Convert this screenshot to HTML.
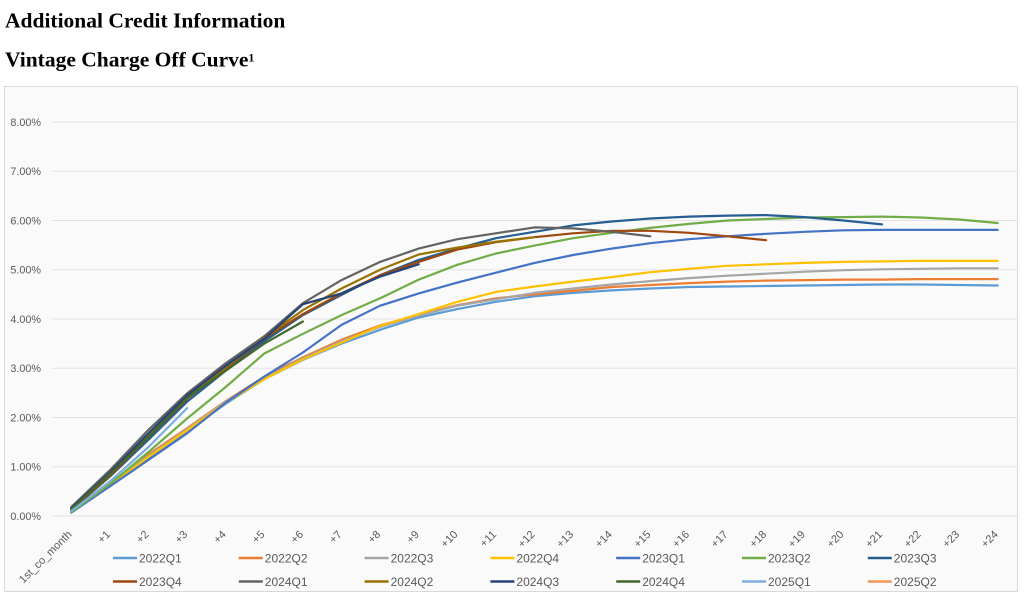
<!DOCTYPE html>
<html>
<head>
<meta charset="utf-8">
<style>
  html, body { margin:0; padding:0; background:#ffffff; }
  body { width:1029px; height:609px; overflow:hidden; position:relative; }
  svg { position:absolute; left:0; top:0; }
</style>
</head>
<body>
<svg width="1029" height="609" viewBox="0 0 1029 609" xmlns="http://www.w3.org/2000/svg">
  <!-- Titles -->
  <text x="5" y="27.5" font-family="Liberation Serif, serif" font-weight="bold" font-size="21.5" fill="#000">Additional Credit Information</text>
  <text x="5" y="66.5" font-family="Liberation Serif, serif" font-weight="bold" font-size="21.5" fill="#000">Vintage Charge Off Curve<tspan font-size="12" dy="-5">1</tspan></text>

  <!-- Chart box -->
  <rect x="4.5" y="86.5" width="1013" height="505" fill="#fafafa" stroke="#d9d9d9" stroke-width="1"/>

  <!-- Gridlines -->
  <g stroke="#e3e3e3" stroke-width="1">
    <line x1="52" x2="1017" y1="122" y2="122"/>
    <line x1="52" x2="1017" y1="171.25" y2="171.25"/>
    <line x1="52" x2="1017" y1="220.5" y2="220.5"/>
    <line x1="52" x2="1017" y1="269.75" y2="269.75"/>
    <line x1="52" x2="1017" y1="319" y2="319"/>
    <line x1="52" x2="1017" y1="368.25" y2="368.25"/>
    <line x1="52" x2="1017" y1="417.5" y2="417.5"/>
    <line x1="52" x2="1017" y1="466.75" y2="466.75"/>
    <line x1="52" x2="1017" y1="516" y2="516"/>
  </g>

  <!-- Y labels -->
  <g font-family="Liberation Sans, sans-serif" font-size="10.8" fill="#595959" text-anchor="end">
    <text x="41" y="125.8">8.00%</text>
    <text x="41" y="175.05">7.00%</text>
    <text x="41" y="224.3">6.00%</text>
    <text x="41" y="273.55">5.00%</text>
    <text x="41" y="322.8">4.00%</text>
    <text x="41" y="372.05">3.00%</text>
    <text x="41" y="421.3">2.00%</text>
    <text x="41" y="470.55">1.00%</text>
    <text x="41" y="519.8">0.00%</text>
  </g>

  <!-- X labels -->
  <g font-family="Liberation Sans, sans-serif" font-size="11" fill="#595959" text-anchor="end">
    <text transform="translate(72.3,535) rotate(-45)">1st_co_month</text>
    <text transform="translate(110.9,535) rotate(-45)">+1</text>
    <text transform="translate(149.5,535) rotate(-45)">+2</text>
    <text transform="translate(188.1,535) rotate(-45)">+3</text>
    <text transform="translate(226.7,535) rotate(-45)">+4</text>
    <text transform="translate(265.3,535) rotate(-45)">+5</text>
    <text transform="translate(303.9,535) rotate(-45)">+6</text>
    <text transform="translate(342.5,535) rotate(-45)">+7</text>
    <text transform="translate(381.1,535) rotate(-45)">+8</text>
    <text transform="translate(419.7,535) rotate(-45)">+9</text>
    <text transform="translate(458.3,535) rotate(-45)">+10</text>
    <text transform="translate(496.9,535) rotate(-45)">+11</text>
    <text transform="translate(535.5,535) rotate(-45)">+12</text>
    <text transform="translate(574.1,535) rotate(-45)">+13</text>
    <text transform="translate(612.7,535) rotate(-45)">+14</text>
    <text transform="translate(651.3,535) rotate(-45)">+15</text>
    <text transform="translate(689.9,535) rotate(-45)">+16</text>
    <text transform="translate(728.5,535) rotate(-45)">+17</text>
    <text transform="translate(767.1,535) rotate(-45)">+18</text>
    <text transform="translate(805.7,535) rotate(-45)">+19</text>
    <text transform="translate(844.3,535) rotate(-45)">+20</text>
    <text transform="translate(882.9,535) rotate(-45)">+21</text>
    <text transform="translate(921.5,535) rotate(-45)">+22</text>
    <text transform="translate(960.1,535) rotate(-45)">+23</text>
    <text transform="translate(998.7,535) rotate(-45)">+24</text>
  </g>

  <!-- Series -->
  <g fill="none" stroke-width="2.2" stroke-linejoin="round" stroke-linecap="round">
    <!-- 2022Q1 -->
    <polyline stroke="#5B9BD5" points="71.3,512.1 109.9,485.5 148.5,457.9 187.1,431.3 225.7,403.7 264.3,379.1 302.9,359.9 341.5,343.6 380.1,329.8 418.7,317.5 457.3,309.1 495.9,301.8 534.5,296.3 573.1,292.9 611.7,290.4 650.3,288.5 688.9,287.0 727.5,286.5 766.1,286.0 804.7,285.5 843.3,285.0 881.9,284.5 920.5,284.5 959.1,285.0 997.7,285.5"/>
    <!-- 2022Q2 -->
    <polyline stroke="#ED7D31" points="71.3,511.6 109.9,484.0 148.5,454.4 187.1,428.3 225.7,401.2 264.3,376.6 302.9,357.4 341.5,339.7 380.1,325.4 418.7,315.1 457.3,305.2 495.9,298.3 534.5,294.4 573.1,290.9 611.7,287.0 650.3,285.0 688.9,283.1 727.5,281.6 766.1,280.6 804.7,280.1 843.3,279.6 881.9,279.6 920.5,279.1 959.1,279.1 997.7,279.1"/>
    <!-- 2022Q3 -->
    <polyline stroke="#A5A5A5" points="71.3,511.6 109.9,484.5 148.5,455.9 187.1,429.3 225.7,401.7 264.3,378.1 302.9,358.4 341.5,341.2 380.1,326.9 418.7,315.6 457.3,305.7 495.9,299.3 534.5,292.9 573.1,288.5 611.7,284.5 650.3,281.1 688.9,278.1 727.5,275.7 766.1,273.7 804.7,271.7 843.3,270.2 881.9,269.3 920.5,268.8 959.1,268.3 997.7,268.3"/>
    <!-- 2022Q4 -->
    <polyline stroke="#FFC000" points="71.3,512.1 109.9,485.5 148.5,456.9 187.1,430.3 225.7,402.7 264.3,379.1 302.9,359.4 341.5,342.6 380.1,325.9 418.7,314.1 457.3,301.8 495.9,291.9 534.5,286.5 573.1,281.6 611.7,277.1 650.3,272.2 688.9,268.8 727.5,265.8 766.1,264.3 804.7,262.9 843.3,261.9 881.9,261.4 920.5,260.9 959.1,260.9 997.7,260.9"/>
    <!-- 2023Q1 -->
    <polyline stroke="#4472C4" points="71.3,512.6 109.9,486.4 148.5,459.9 187.1,433.3 225.7,402.7 264.3,376.6 302.9,352.5 341.5,324.9 380.1,305.7 418.7,293.4 457.3,282.6 495.9,272.7 534.5,262.9 573.1,255.0 611.7,248.6 650.3,243.2 688.9,239.2 727.5,236.3 766.1,233.8 804.7,231.8 843.3,230.3 881.9,229.9 920.5,229.9 959.1,229.9 997.7,229.9"/>
    <!-- 2023Q2 -->
    <polyline stroke="#70AD47" points="71.3,512.1 109.9,484.0 148.5,452.0 187.1,418.5 225.7,387.0 264.3,353.5 302.9,333.8 341.5,315.1 380.1,298.3 418.7,279.6 457.3,264.8 495.9,253.5 534.5,245.6 573.1,238.2 611.7,232.8 650.3,227.9 688.9,223.9 727.5,220.5 766.1,219.0 804.7,217.5 843.3,217.1 881.9,216.6 920.5,217.5 959.1,219.5 997.7,223.0"/>
    <!-- 2023Q3 -->
    <polyline stroke="#255E91" points="71.3,510.1 109.9,476.6 148.5,439.7 187.1,401.7 225.7,370.7 264.3,341.2 302.9,315.1 341.5,294.9 380.1,275.2 418.7,259.9 457.3,248.6 495.9,238.2 534.5,231.8 573.1,225.4 611.7,221.5 650.3,218.5 688.9,216.6 727.5,215.6 766.1,215.1 804.7,217.1 843.3,220.5 881.9,224.4"/>
    <!-- 2023Q4 -->
    <polyline stroke="#9E480E" points="71.3,509.6 109.9,475.6 148.5,437.2 187.1,398.8 225.7,368.2 264.3,338.7 302.9,314.1 341.5,293.4 380.1,275.2 418.7,261.9 457.3,249.6 495.9,242.2 534.5,237.2 573.1,233.3 611.7,230.8 650.3,230.8 688.9,232.8 727.5,236.3 766.1,240.2"/>
    <!-- 2024Q1 -->
    <polyline stroke="#636363" points="71.3,507.1 109.9,470.2 148.5,429.8 187.1,393.4 225.7,363.3 264.3,336.2 302.9,303.2 341.5,280.1 380.1,261.9 418.7,248.6 457.3,239.2 495.9,233.3 534.5,227.4 573.1,228.4 611.7,231.8 650.3,236.3"/>
    <!-- 2024Q2 -->
    <polyline stroke="#997300" points="71.3,508.6 109.9,474.1 148.5,434.7 187.1,396.8 225.7,367.3 264.3,337.7 302.9,310.1 341.5,288.5 380.1,269.7 418.7,254.5 457.3,247.6 495.9,241.7 534.5,237.2"/>
    <!-- 2024Q3 -->
    <polyline stroke="#264478" points="71.3,508.1 109.9,472.7 148.5,433.3 187.1,395.3 225.7,365.8 264.3,338.7 302.9,304.2 341.5,293.4 380.1,276.6 418.7,264.3"/>
    <!-- 2024Q4 -->
    <polyline stroke="#43682B" points="71.3,509.1 109.9,474.1 148.5,437.2 187.1,397.8 225.7,370.7 264.3,343.6 302.9,321.5"/>
    <!-- 2025Q1 -->
    <polyline stroke="#7CAFDD" points="71.3,511.1 109.9,481.5 148.5,447.0 187.1,408.1"/>
  </g>

  <!-- Legend -->
  <g stroke-width="2.6">
    <line x1="113" x2="137" y1="558" y2="558" stroke="#5B9BD5"/>
    <line x1="238.8" x2="262.8" y1="558" y2="558" stroke="#ED7D31"/>
    <line x1="364.6" x2="388.6" y1="558" y2="558" stroke="#A5A5A5"/>
    <line x1="490.4" x2="514.4" y1="558" y2="558" stroke="#FFC000"/>
    <line x1="616.2" x2="640.2" y1="558" y2="558" stroke="#4472C4"/>
    <line x1="742" x2="766" y1="558" y2="558" stroke="#70AD47"/>
    <line x1="867.8" x2="891.8" y1="558" y2="558" stroke="#255E91"/>
    <line x1="113" x2="137" y1="581.5" y2="581.5" stroke="#9E480E"/>
    <line x1="238.8" x2="262.8" y1="581.5" y2="581.5" stroke="#636363"/>
    <line x1="364.6" x2="388.6" y1="581.5" y2="581.5" stroke="#997300"/>
    <line x1="490.4" x2="514.4" y1="581.5" y2="581.5" stroke="#264478"/>
    <line x1="616.2" x2="640.2" y1="581.5" y2="581.5" stroke="#43682B"/>
    <line x1="742" x2="766" y1="581.5" y2="581.5" stroke="#7CAFDD"/>
    <line x1="867.8" x2="891.8" y1="581.5" y2="581.5" stroke="#F1975A"/>
  </g>
  <g font-family="Liberation Sans, sans-serif" font-size="12" fill="#595959">
    <text x="139" y="562.3">2022Q1</text>
    <text x="264.8" y="562.3">2022Q2</text>
    <text x="390.6" y="562.3">2022Q3</text>
    <text x="516.4" y="562.3">2022Q4</text>
    <text x="642.2" y="562.3">2023Q1</text>
    <text x="768" y="562.3">2023Q2</text>
    <text x="893.8" y="562.3">2023Q3</text>
    <text x="139" y="585.8">2023Q4</text>
    <text x="264.8" y="585.8">2024Q1</text>
    <text x="390.6" y="585.8">2024Q2</text>
    <text x="516.4" y="585.8">2024Q3</text>
    <text x="642.2" y="585.8">2024Q4</text>
    <text x="768" y="585.8">2025Q1</text>
    <text x="893.8" y="585.8">2025Q2</text>
  </g>
</svg>
</body>
</html>
